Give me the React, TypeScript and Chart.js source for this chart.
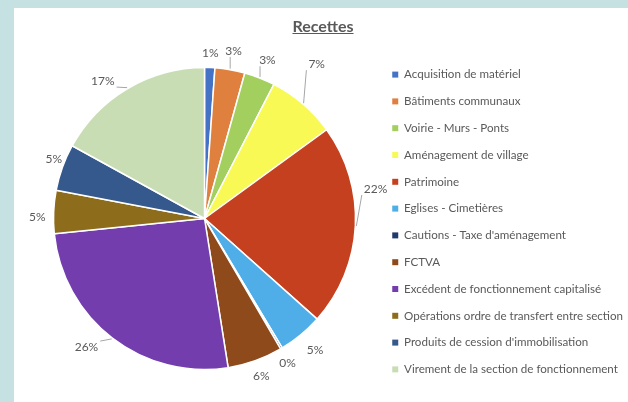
import React, { useEffect, useRef } from 'react';
import { Chart, registerables } from 'chart.js';

Chart.register(...registerables);

const categories = [
  'Acquisition de matériel',
  'Bâtiments communaux',
  'Voirie - Murs - Ponts',
  'Aménagement de village',
  'Patrimoine',
  'Eglises - Cimetières',
  "Cautions - Taxe d'aménagement",
  'FCTVA',
  'Excédent de fonctionnement capitalisé',
  'Opérations ordre de transfert entre section',
  "Produits de cession d'immobilisation",
  'Virement de la section de fonctionnement',
];

// share of receipts, in percent
const values = [1.1, 3.2, 3.3, 7.4, 21.6, 4.8, 0.2, 5.9, 25.9, 4.6, 5.0, 17.0];

const colors = [
  '#4472C4', '#E0803F', '#A2CF5E', '#F9F955', '#C5401F', '#4FAEE8',
  '#223A6B', '#8F4A1C', '#733DAE', '#8D6C1C', '#35598C', '#C9DDB4',
];

const chartTitle = 'Recettes';

const FONT = 'Lato, "Open Sans", "DejaVu Sans", sans-serif';
const TEXT = '#595959';

// label placement tweaks (best-fit style), not data
const labelShiftDeg = [0, 0, 0, -5, -13, 0, 1, 0, 4, -2, 2, -5];
const labelPush = [0, 5, 5, 25, 3, 6, 1, 2, 7, 0, -5, 4];

const titlePlugin = {
  id: 'underlinedTitle',
  afterDraw(chart: any) {
    const ctx = chart.ctx;
    ctx.save();
    ctx.font = `bold 16px ${FONT}`;
    ctx.fillStyle = TEXT;
    ctx.textAlign = 'center';
    ctx.textBaseline = 'alphabetic';
    const cx = chart.width / 2 + 2;
    const by = 23.5;
    ctx.fillText(chartTitle, cx, by);
    const w = ctx.measureText(chartTitle).width;
    ctx.fillRect(cx - w / 2, by + 1.5, w, 1);
    ctx.restore();
  },
};

const labelPlugin = {
  id: 'pctLabels',
  afterDatasetsDraw(chart: any) {
    const ctx = chart.ctx;
    const meta = chart.getDatasetMeta(0);
    const data = chart.data.datasets[0].data as number[];
    const total = data.reduce((a, b) => a + b, 0);
    ctx.save();
    ctx.font = `12px ${FONT}`;
    ctx.fillStyle = TEXT;
    ctx.textAlign = 'center';
    ctx.textBaseline = 'middle';
    meta.data.forEach((arc: any, i: number) => {
      const { x, y, startAngle, endAngle, outerRadius } = arc.getProps(
        ['x', 'y', 'startAngle', 'endAngle', 'outerRadius'],
        true
      );
      const mid = (startAngle + endAngle) / 2;
      const ang = mid + (labelShiftDeg[i] * Math.PI) / 180;
      const text = Math.round((data[i] / total) * 100) + '%';
      const tw = ctx.measureText(text).width;
      const hw = tw / 2;
      const hh = 6;
      const d = outerRadius + 8 + labelPush[i];
      const c = Math.cos(ang);
      const s = Math.sin(ang);
      const cx = x + c * d + c * hw;
      const cy = y + s * d + s * hh;
      ctx.fillStyle = TEXT;
      ctx.fillText(text, cx, cy);
      // leader line
      const sx = x + Math.cos(mid) * (outerRadius + 1);
      const sy = y + Math.sin(mid) * (outerRadius + 1);
      const left = cx - hw - 2;
      const right = cx + hw + 2;
      const top = cy - hh;
      const bottom = cy + hh;
      const ex = Math.min(Math.max(sx, left), right);
      const ey = Math.min(Math.max(sy, top), bottom);
      const gap = Math.hypot(ex - sx, ey - sy);
      if (gap > 10) {
        ctx.strokeStyle = '#A6A6A6';
        ctx.lineWidth = 1;
        ctx.beginPath();
        ctx.moveTo(sx, sy);
        ctx.lineTo(ex, ey);
        ctx.stroke();
      }
    });
    ctx.restore();
  },
};

export default function App() {
  const ref = useRef<HTMLCanvasElement | null>(null);

  useEffect(() => {
    if (!ref.current) return;
    const pieOverrides: any = (Chart as any).overrides.pie;
    const chart = new Chart(ref.current, {
      type: 'pie',
      data: {
        labels: categories,
        datasets: [
          {
            data: values,
            backgroundColor: colors,
            borderColor: '#FFFFFF',
            borderWidth: 1.5,
            radius: 151,
          } as any,
        ],
      },
      options: {
        responsive: false,
        animation: false,
        layout: { padding: { top: 28, bottom: 1, left: 18, right: -5 } },
        plugins: {
          title: { display: false },
          tooltip: { enabled: false },
          legend: {
            position: 'right',
            align: 'center',
            title: { display: true, text: '', padding: 0, font: { size: 7, lineHeight: 1 } },
            labels: {
              boxWidth: 6,
              boxHeight: 6,
              padding: 15.2,
              color: TEXT,
              font: { family: FONT, size: 11.6 },
              generateLabels: (c: any) =>
                pieOverrides.plugins.legend.labels
                  .generateLabels(c)
                  .map((l: any) => ({ ...l, lineWidth: 0, strokeStyle: 'rgba(0,0,0,0)' })),
            },
          },
        },
      },
      plugins: [titlePlugin, labelPlugin],
    });
    return () => chart.destroy();
  }, []);

  return (
    <div
      style={{
        position: 'fixed',
        left: 0,
        top: 0,
        width: 628,
        height: 402,
        background: '#C6E1E1',
      }}
    >
      <div
        style={{
          position: 'absolute',
          left: 14,
          top: 8,
          width: 614,
          height: 394,
          background: '#FFFFFF',
        }}
      >
        <canvas ref={ref} width={614} height={394} style={{ display: 'block' }} />
      </div>
    </div>
  );
}
